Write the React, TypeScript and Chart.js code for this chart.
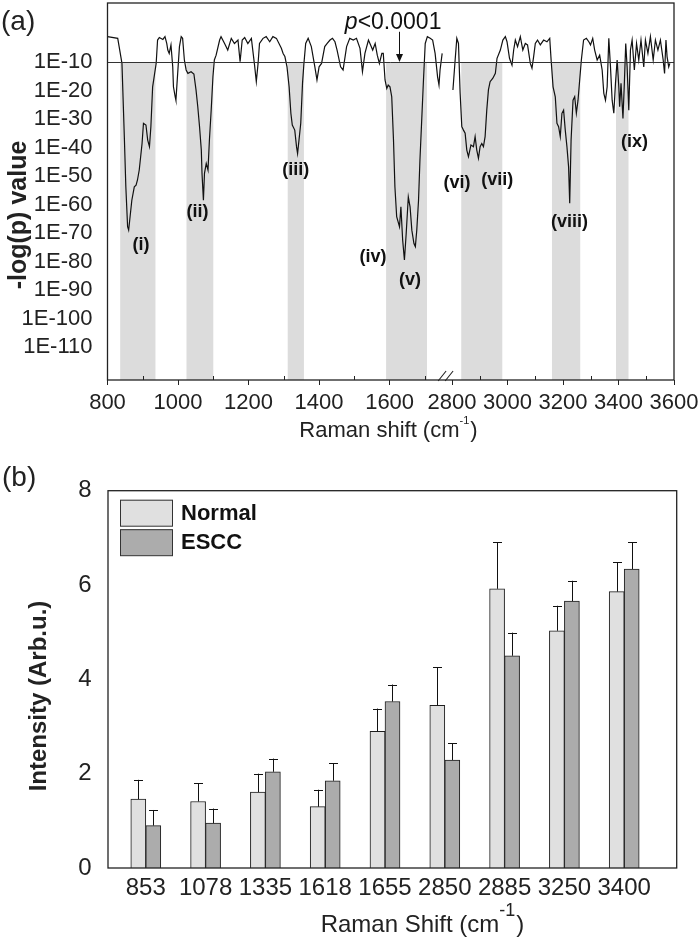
import React, { useEffect, useRef } from "react";
import { Chart, registerables } from "chart.js";

Chart.register(...registerables);

const FONT = "'Liberation Sans', Arial, Helvetica, sans-serif";

// ---------- Panel (a) data ----------
const leftWave = [800, 829, 833, 841, 848, 852, 857, 860, 864, 869, 876, 881, 885, 890, 898, 902, 909, 914, 919, 923, 928, 933, 938, 942, 947, 957, 963, 968, 971, 975, 980, 985, 987, 992, 994, 999, 1004, 1009, 1013, 1018, 1023, 1028, 1037, 1045, 1051, 1056, 1061, 1066, 1068, 1072, 1075, 1080, 1085, 1089, 1094, 1099, 1103, 1108, 1118, 1122, 1132, 1141, 1151, 1160, 1170, 1176, 1182, 1189, 1198, 1208, 1217, 1222, 1227, 1231, 1241, 1250, 1260, 1269, 1279, 1293, 1298, 1303, 1309, 1315, 1320, 1324, 1331, 1336, 1339, 1343, 1348, 1353, 1357, 1362, 1369, 1378, 1388, 1394, 1400, 1407, 1416, 1423, 1431, 1438, 1445, 1451, 1461, 1468, 1478, 1487, 1497, 1506, 1516, 1523, 1530, 1540, 1546, 1552, 1559, 1565, 1571, 1578, 1582, 1587, 1592, 1596, 1601, 1606, 1611, 1615, 1620, 1628, 1632, 1637, 1642, 1647, 1653, 1658, 1663, 1669, 1673, 1677, 1682, 1686, 1691, 1696, 1701, 1707, 1715, 1722, 1729, 1736, 1740, 1743, 1749];
const leftLogP = [1.1, 1.7, 4.6, 10.5, 37.4, 53.8, 67.8, 69.0, 64.3, 58.5, 53.8, 53.2, 51.4, 47.9, 38.6, 31.5, 32.1, 37.4, 39.7, 32.7, 18.7, 14.6, 10.5, 2.3, 1.4, 2.1, 1.1, 3.5, 5.8, 7.0, 4.0, 11.7, 18.7, 22.2, 23.4, 14.0, 4.6, 1.1, 1.7, 9.3, 12.8, 14.0, 13.4, 14.2, 19.8, 25.7, 32.7, 40.9, 49.1, 58.5, 49.1, 45.6, 47.9, 37.4, 26.9, 15.2, 9.3, 7.6, 2.3, 1.1, 3.5, 5.8, 1.7, 3.5, 2.3, 9.9, 2.3, 1.4, 3.5, 1.7, 11.1, 16.9, 10.5, 3.5, 1.7, 1.1, 2.9, 1.1, 1.7, 5.2, 7.0, 8.1, 11.7, 18.7, 28.0, 32.1, 33.9, 39.7, 42.1, 37.4, 31.5, 17.5, 10.5, 3.5, 1.7, 4.6, 11.7, 16.3, 11.7, 10.5, 4.6, 3.5, 2.3, 1.7, 2.9, 5.8, 11.7, 12.8, 4.6, 1.7, 2.3, 1.7, 5.2, 13.4, 7.0, 2.3, 4.0, 5.8, 3.5, 7.6, 10.5, 7.0, 7.0, 16.3, 19.3, 18.1, 18.7, 22.2, 37.4, 53.8, 64.3, 67.8, 60.8, 72.5, 79.5, 70.2, 57.3, 60.8, 69.0, 73.7, 74.8, 69.0, 58.5, 44.4, 30.4, 16.3, 3.5, 1.1, 1.7, 2.3, 7.0, 15.2, 18.1, 12.8, 7.0];
const rightWave = [2803, 2811, 2817, 2823, 2829, 2835, 2841, 2847, 2853, 2859, 2868, 2877, 2883, 2889, 2895, 2901, 2907, 2913, 2919, 2925, 2931, 2937, 2947, 2956, 2962, 2974, 2983, 2992, 2998, 3007, 3016, 3022, 3028, 3036, 3046, 3055, 3064, 3072, 3082, 3088, 3094, 3100, 3108, 3118, 3130, 3142, 3152, 3157, 3164, 3172, 3178, 3184, 3190, 3196, 3202, 3208, 3214, 3220, 3224, 3229, 3236, 3242, 3248, 3254, 3260, 3266, 3274, 3284, 3293, 3299, 3307, 3314, 3323, 3332, 3341, 3347, 3353, 3359, 3365, 3371, 3377, 3383, 3389, 3395, 3401, 3404, 3409, 3416, 3421, 3426, 3431, 3437, 3443, 3449, 3457, 3465, 3473, 3481, 3491, 3497, 3506, 3515, 3525, 3533, 3542, 3551, 3561, 3566, 3571, 3575, 3581, 3585];
const rightLogP = [19.8, 9.3, 1.7, 3.5, 21.0, 32.7, 33.9, 35.0, 40.9, 43.2, 39.1, 39.7, 36.2, 40.9, 43.8, 39.7, 38.6, 39.7, 36.2, 26.9, 19.8, 16.9, 15.7, 14.0, 8.7, 5.8, 2.3, 1.1, 2.9, 8.7, 11.1, 5.8, 2.3, 4.6, 1.1, 5.8, 3.5, 4.0, 10.5, 12.2, 8.1, 3.5, 2.3, 4.0, 2.3, 2.9, 1.7, 9.3, 18.7, 22.2, 31.5, 32.7, 36.2, 28.0, 26.9, 33.9, 39.7, 46.8, 59.6, 37.4, 23.4, 22.2, 28.0, 23.4, 16.3, 9.3, 2.3, 1.7, 2.9, 4.0, 1.7, 5.8, 9.3, 7.6, 12.8, 21.0, 23.4, 18.7, 1.7, 11.7, 23.4, 28.0, 17.5, 9.3, 18.7, 25.7, 17.5, 29.8, 17.5, 3.5, 11.7, 26.9, 5.8, 2.3, 12.8, 3.5, 9.3, 2.3, 11.7, 2.3, 7.0, 1.1, 9.3, 2.3, 5.8, 2.3, 9.3, 14.0, 2.3, 8.1, 11.7, 10.5];

const thresholdLogP = 10;
const bandStart = [836, 1024, 1311, 1590, 2833, 3160, 3391];
const bandEnd = [936, 1100, 1357, 1706, 2981, 3262, 3436];
const peakLabels = ["(i)", "(ii)", "(iii)", "(iv)", "(v)", "(vi)", "(vii)", "(viii)", "(ix)"];
const peakLabelWave = [895, 1055, 1334, 1553, 1658, 2818, 2963, 3223, 3458];
const peakLabelLogP = [74.2, 62.6, 47.9, 78.4, 86.5, 52.5, 51.4, 66.1, 38.1];
const pNoteWave = 1610;
const pNoteLogP = -3.7;
const yTicksA = [10, 20, 30, 40, 50, 60, 70, 80, 90, 100, 110];
const xTicksLeft = [800, 900, 1000, 1100, 1200, 1300, 1400, 1500, 1600, 1700];
const xTicksRight = [2800, 2900, 3000, 3100, 3200, 3300, 3400, 3500, 3600];

// ---------- Panel (b) data ----------
const shifts = ["853", "1078", "1335", "1618", "1655", "2850", "2885", "3250", "3400"];
const normalMean = [1.46, 1.41, 1.61, 1.3, 2.9, 3.45, 5.92, 5.03, 5.86];
const normalSD = [0.41, 0.39, 0.39, 0.36, 0.48, 0.81, 0.99, 0.53, 0.62];
const esccMean = [0.9, 0.95, 2.04, 1.85, 3.53, 2.29, 4.5, 5.66, 6.34];
const esccSD = [0.33, 0.31, 0.28, 0.37, 0.36, 0.35, 0.49, 0.43, 0.57];
const yTicksB = [0, 2, 4, 6, 8];

function drawSupTitle(ctx: any, cx: number, baseY: number, main: string, sup: string, tail: string, font: string, supFont: string, rise: number) {
  ctx.font = font;
  const w1 = ctx.measureText(main).width;
  const w3 = ctx.measureText(tail).width;
  ctx.font = supFont;
  const w2 = ctx.measureText(sup).width;
  let x = cx - (w1 + w2 + w3) / 2;
  ctx.textAlign = "left";
  ctx.textBaseline = "alphabetic";
  ctx.font = font;
  ctx.fillText(main, x, baseY);
  x += w1;
  ctx.font = supFont;
  ctx.fillText(sup, x, baseY - rise);
  x += w2 + 1;
  ctx.font = font;
  ctx.fillText(tail, x, baseY);
}

function waveScale(chart: any, w: number) {
  return w < 2000 ? chart.scales.xl : chart.scales.xr;
}

const panelAPlugin = {
  id: "panelA",
  beforeDatasetsDraw(chart: any) {
    const { ctx, chartArea, scales } = chart;
    const yTop = scales.y.getPixelForValue(thresholdLogP);
    ctx.save();
    ctx.fillStyle = "#dcdcdc";
    bandStart.forEach((s, i) => {
      const sc = waveScale(chart, s);
      const x0 = sc.getPixelForValue(s);
      const x1 = sc.getPixelForValue(bandEnd[i]);
      ctx.fillRect(x0, yTop, x1 - x0, chartArea.bottom - yTop);
    });
    ctx.restore();
  },
  afterDraw(chart: any) {
    const { ctx, chartArea, scales } = chart;
    const y = scales.y;
    ctx.save();
    const yT = Math.round(y.getPixelForValue(thresholdLogP)) + 0.5;
    ctx.strokeStyle = "#333";
    ctx.lineWidth = 1;
    ctx.beginPath();
    ctx.moveTo(chartArea.left, yT);
    ctx.lineTo(chartArea.right, yT);
    ctx.stroke();
    ctx.strokeStyle = "#222";
    ctx.lineWidth = 1.3;
    ctx.strokeRect(chartArea.left, chartArea.top, chartArea.right - chartArea.left, chartArea.bottom - chartArea.top);
    ctx.lineWidth = 1;
    [scales.xl, scales.xr].forEach((sc: any) => {
      sc.ticks.forEach((t: any) => {
        if (t.value % 200 !== 0) {
          const px = Math.round(sc.getPixelForValue(t.value)) + 0.5;
          ctx.beginPath();
          ctx.moveTo(px, chartArea.bottom);
          ctx.lineTo(px, chartArea.bottom - 4);
          ctx.stroke();
        }
      });
    });
    const bx = scales.xl.right;
    const ay = chartArea.bottom;
    ctx.lineWidth = 1.1;
    ctx.beginPath();
    ctx.moveTo(bx - 9, ay + 1);
    ctx.lineTo(bx - 1, ay - 9);
    ctx.moveTo(bx - 2, ay + 1);
    ctx.lineTo(bx + 6, ay - 9);
    ctx.stroke();
    ctx.fillStyle = "#111";
    ctx.font = `bold 18px ${FONT}`;
    ctx.textAlign = "center";
    ctx.textBaseline = "middle";
    peakLabels.forEach((lab, i) => {
      const sc = waveScale(chart, peakLabelWave[i]);
      ctx.fillText(lab, sc.getPixelForValue(peakLabelWave[i]), y.getPixelForValue(peakLabelLogP[i]));
    });
    const sc = waveScale(chart, pNoteWave);
    const cx = sc.getPixelForValue(pNoteWave);
    const cy = y.getPixelForValue(pNoteLogP);
    ctx.font = `italic 23px ${FONT}`;
    const wp = ctx.measureText("p").width;
    ctx.font = `23px ${FONT}`;
    const wr = ctx.measureText("<0.0001").width;
    const tx = cx - (wp + wr) / 2;
    ctx.textAlign = "left";
    ctx.font = `italic 23px ${FONT}`;
    ctx.fillText("p", tx, cy);
    ctx.font = `23px ${FONT}`;
    ctx.fillText("<0.0001", tx + wp, cy);
    const ax = Math.round(sc.getPixelForValue(1627)) + 0.5;
    const aTop = y.getPixelForValue(-0.6);
    const aBot = y.getPixelForValue(thresholdLogP);
    ctx.strokeStyle = "#111";
    ctx.lineWidth = 1;
    ctx.beginPath();
    ctx.moveTo(ax, aTop);
    ctx.lineTo(ax, aBot - 6);
    ctx.stroke();
    ctx.beginPath();
    ctx.moveTo(ax - 3.5, aBot - 8);
    ctx.lineTo(ax + 3.5, aBot - 8);
    ctx.lineTo(ax, aBot);
    ctx.closePath();
    ctx.fill();
    ctx.fillStyle = "#222";
    ctx.font = `28px ${FONT}`;
    ctx.textAlign = "left";
    ctx.textBaseline = "middle";
    ctx.fillText("(a)", 1, 22);
    ctx.save();
    ctx.translate(19, 215);
    ctx.rotate(-Math.PI / 2);
    ctx.font = `bold 25px ${FONT}`;
    ctx.textAlign = "center";
    ctx.textBaseline = "middle";
    ctx.fillText("-log(p) value", 0, 0);
    ctx.restore();
    drawSupTitle(ctx, 388, 437, "Raman shift (cm", "-1", ")", `22px ${FONT}`, `11px ${FONT}`, 13);
    ctx.restore();
  },
};

const panelBPlugin = {
  id: "panelB",
  afterDatasetsDraw(chart: any) {
    const { ctx, scales } = chart;
    const sds = [normalSD, esccSD];
    const means = [normalMean, esccMean];
    ctx.save();
    ctx.strokeStyle = "#111";
    ctx.lineWidth = 1;
    [0, 1].forEach((d) => {
      const meta = chart.getDatasetMeta(d);
      meta.data.forEach((el: any, i: number) => {
        const x = Math.round(el.x) + 0.5;
        const yTop = el.y;
        const yErr = scales.y.getPixelForValue(means[d][i] + sds[d][i]);
        ctx.beginPath();
        ctx.moveTo(x, yTop);
        ctx.lineTo(x, yErr);
        ctx.moveTo(x - 4.5, Math.round(yErr) + 0.5);
        ctx.lineTo(x + 4.5, Math.round(yErr) + 0.5);
        ctx.stroke();
      });
    });
    ctx.restore();
  },
  afterDraw(chart: any) {
    const { ctx, chartArea } = chart;
    ctx.save();
    ctx.strokeStyle = "#222";
    ctx.lineWidth = 1.3;
    ctx.strokeRect(chartArea.left, chartArea.top, chartArea.right - chartArea.left, chartArea.bottom - chartArea.top);
    const lx = chartArea.left + 12;
    const ly = chartArea.top + 9;
    chart.data.datasets.forEach((ds: any, i: number) => {
      const top = ly + i * 29.5;
      ctx.fillStyle = ds.backgroundColor;
      ctx.fillRect(lx, top, 52.5, 26.5);
      ctx.strokeStyle = "#333";
      ctx.lineWidth = 1;
      ctx.strokeRect(lx + 0.5, top + 0.5, 52, 26);
      ctx.fillStyle = "#111";
      ctx.font = `bold 22px ${FONT}`;
      ctx.textAlign = "left";
      ctx.textBaseline = "middle";
      ctx.fillText(ds.label, lx + 61, top + 14);
    });
    ctx.fillStyle = "#222";
    ctx.font = `28px ${FONT}`;
    ctx.textAlign = "left";
    ctx.textBaseline = "middle";
    ctx.fillText("(b)", 2, 18);
    ctx.save();
    ctx.translate(39, 236);
    ctx.rotate(-Math.PI / 2);
    ctx.font = `bold 24px ${FONT}`;
    ctx.textAlign = "center";
    ctx.textBaseline = "middle";
    ctx.fillText("Intensity (Arb.u.)", 0, 0);
    ctx.restore();
    drawSupTitle(ctx, 422, 472, "Raman Shift (cm", "-1", ")", `24px ${FONT}`, `18px ${FONT}`, 16);
    ctx.restore();
  },
};

function xAxisA(min: number, max: number, weight: number, tickVals: number[]) {
  return {
    type: "linear",
    position: "bottom",
    stack: "wave",
    stackWeight: weight,
    min,
    max,
    afterBuildTicks: (s: any) => {
      s.ticks = tickVals.map((v) => ({ value: v }));
    },
    afterFit: (s: any) => {
      s.height = 80;
      s.paddingLeft = 0;
      s.paddingRight = 0;
    },
    grid: {
      display: true,
      drawOnChartArea: false,
      drawTicks: true,
      tickLength: 5,
      tickWidth: 1,
      tickColor: (c: any) => (c.tick && c.tick.value % 200 === 0 ? "#222" : "rgba(0,0,0,0)"),
    },
    border: { display: false },
    ticks: {
      autoSkip: false,
      maxRotation: 0,
      minRotation: 0,
      padding: 5,
      color: "#222",
      font: { family: FONT, size: 22 },
      callback: (v: any) => (v % 200 === 0 ? String(v) : ""),
    },
  };
}

export default function App() {
  const refA = useRef<HTMLCanvasElement>(null);
  const refB = useRef<HTMLCanvasElement>(null);

  useEffect(() => {
    const chartA = new Chart(refA.current as HTMLCanvasElement, {
      type: "line",
      data: {
        datasets: [
          {
            label: "-log(p) 800-1750",
            xAxisID: "xl",
            yAxisID: "y",
            data: leftWave.map((w, i) => ({ x: w, y: leftLogP[i] })),
            borderColor: "#111",
            borderWidth: 1.2,
            pointRadius: 0,
            tension: 0,
          },
          {
            label: "-log(p) 2800-3600",
            xAxisID: "xr",
            yAxisID: "y",
            data: rightWave.map((w, i) => ({ x: w, y: rightLogP[i] })),
            borderColor: "#111",
            borderWidth: 1.2,
            pointRadius: 0,
            tension: 0,
          },
        ],
      },
      options: {
        responsive: false,
        animation: false,
        parsing: false,
        layout: { padding: { left: 0, top: 3, right: 26, bottom: 0 } },
        plugins: { legend: { display: false }, tooltip: { enabled: false } },
        scales: {
          xl: xAxisA(800, 1763, 338.7, xTicksLeft),
          xr: xAxisA(2782, 3600, 226.3, xTicksRight),
          y: {
            type: "linear",
            position: "left",
            reverse: true,
            min: -10.7,
            max: 121.58,
            afterBuildTicks: (s: any) => {
              s.ticks = yTicksA.map((v) => ({ value: v }));
            },
            afterFit: (s: any) => {
              s.width = 107.5;
              s.paddingTop = 0;
              s.paddingBottom = 0;
            },
            grid: { display: false },
            border: { display: false },
            ticks: {
              padding: 7,
              color: "#222",
              font: { family: FONT, size: 22 },
              callback: (v: any) => "1E-" + v,
            },
          },
        },
      } as any,
      plugins: [panelAPlugin],
    } as any);

    const chartB = new Chart(refB.current as HTMLCanvasElement, {
      type: "bar",
      data: {
        datasets: [
          {
            label: "Normal",
            data: normalMean.map((v, i) => ({ x: i, y: v })),
            backgroundColor: "#e0e0e0",
            borderColor: "#1e1e1e",
            borderWidth: 1,
            barThickness: 15,
          },
          {
            label: "ESCC",
            data: esccMean.map((v, i) => ({ x: i, y: v })),
            backgroundColor: "#acacac",
            borderColor: "#1e1e1e",
            borderWidth: 1,
            barThickness: 15,
          },
        ],
      },
      options: {
        responsive: false,
        animation: false,
        layout: { padding: { left: 0, top: 30.7, right: 23.3, bottom: 0 } },
        plugins: { legend: { display: false }, tooltip: { enabled: false } },
        scales: {
          x: {
            type: "linear",
            offset: false,
            min: -0.632,
            max: 8.878,
            afterBuildTicks: (s: any) => {
              s.ticks = shifts.map((_, i) => ({ value: i }));
            },
            afterFit: (s: any) => {
              s.height = 70;
              s.paddingLeft = 0;
              s.paddingRight = 0;
            },
            grid: { display: false, offset: false },
            border: { display: false },
            ticks: {
              autoSkip: false,
              maxRotation: 0,
              minRotation: 0,
              padding: -2,
              color: "#222",
              font: { family: FONT, size: 24 },
              callback: (v: any) => shifts[v] ?? "",
            },
          },
          y: {
            type: "linear",
            min: 0,
            max: 8,
            afterBuildTicks: (s: any) => {
              s.ticks = yTicksB.map((v) => ({ value: v }));
            },
            afterFit: (s: any) => {
              s.width = 108;
              s.paddingTop = 0;
              s.paddingBottom = 0;
            },
            grid: { display: false },
            border: { display: false },
            ticks: {
              padding: 8.5,
              color: "#222",
              font: { family: FONT, size: 24 },
            },
          },
        },
      } as any,
      plugins: [panelBPlugin],
    } as any);

    return () => {
      chartA.destroy();
      chartB.destroy();
    };
  }, []);

  return (
    <div style={{ position: "fixed", left: 0, top: 0, width: 700, height: 938, background: "#fff" }}>
      <canvas ref={refA} width={700} height={460} style={{ position: "absolute", left: 0, top: 0, width: 700, height: 460 }} />
      <canvas ref={refB} width={700} height={478} style={{ position: "absolute", left: 0, top: 460, width: 700, height: 478 }} />
    </div>
  );
}
